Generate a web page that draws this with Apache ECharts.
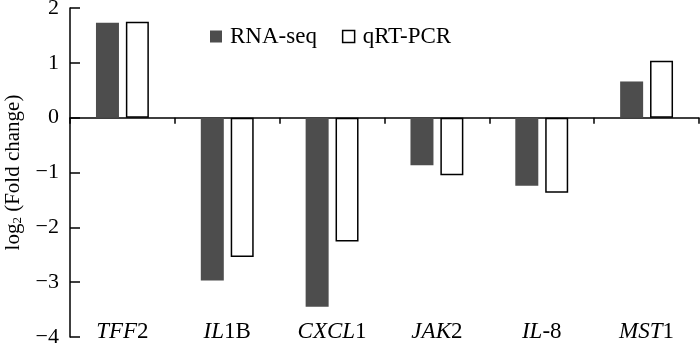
<!DOCTYPE html>
<html><head><meta charset="utf-8">
<script src="https://cdn.jsdelivr.net/npm/echarts@6/dist/echarts.min.js"></script>
<style>html,body{margin:0;padding:0;background:#fff}#c{width:700px;height:344px}</style>
</head><body><div id="c"></div>
<script>
const categories = ['TFF2','IL1B','CXCL1','JAK2','IL-8','MST1'];
const rnaSeq = [1.73, -2.97, -3.45, -0.87, -1.24, 0.66];
const qrtPcr = [1.75, -2.54, -2.26, -1.05, -1.37, 1.04];
const yTicks = [2, 1, 0, -1, -2, -3, -4];
const seriesNames = ['RNA-seq', 'qRT-PCR'];

const FONT = '"Liberation Serif", "Times New Roman", serif';
const chart = echarts.init(document.getElementById('c'), null, {renderer: 'canvas'});
const fmtCat = v => {
  const m = v.match(/^([A-Z]+)(.*)$/);
  return '{i|' + m[1] + '}{n|' + m[2] + '}';
};
chart.setOption({
  animation: false,
  backgroundColor: '#fff',
  textStyle: {fontFamily: FONT, color: '#000'},
  legend: {
    left: 205, top: 20, itemWidth: 12, itemHeight: 12, itemGap: 25,
    textStyle: {fontFamily: FONT, fontSize: 23, color: '#000', padding: [0, 0, 0, 3]},
    data: [
      {name: seriesNames[0], icon: 'rect', itemStyle: {color: '#4d4d4d', borderWidth: 0}},
      {name: seriesNames[1], icon: 'rect', itemStyle: {color: '#fff', borderColor: '#000', borderWidth: 1.5}}
    ]
  },
  grid: {left: 70, right: 1, top: 8, bottom: 7, containLabel: false, outerBoundsMode: 'none'},
  xAxis: [{
    type: 'category', data: categories, position: 'bottom',
    axisLine: {onZero: true, lineStyle: {color: '#000', width: 1.5}},
    axisTick: {show: true, length: 6, lineStyle: {color: '#000', width: 1.5}},
    axisLabel: {show: false}, splitLine: {show: false}
  }, {
    type: 'category', data: categories, position: 'bottom',
    axisLine: {show: false, onZero: false}, axisTick: {show: false},
    axisLabel: {
      inside: true, margin: -6, formatter: fmtCat,
      rich: {
        i: {fontFamily: FONT, fontSize: 23, fontStyle: 'italic', color: '#000'},
        n: {fontFamily: FONT, fontSize: 23, color: '#000'}
      }
    }
  }],
  yAxis: {
    type: 'value', min: -4, max: 2, interval: 1,
    axisLine: {show: true, lineStyle: {color: '#000', width: 1.5}},
    axisTick: {show: true, inside: true, length: 10, lineStyle: {color: '#000', width: 1.5}},
    splitLine: {show: false},
    axisLabel: {
      margin: 11, fontFamily: FONT, fontSize: 22, color: '#000',
      formatter: v => String(v).replace('-', '\u2212')
    },
    name: '{a|log}{s|2}{a| (Fold change)}',
    nameLocation: 'middle', nameGap: 46, nameRotate: 90,
    nameTextStyle: {
      rich: {
        a: {fontFamily: FONT, fontSize: 21, color: '#000'},
        s: {fontFamily: FONT, fontSize: 13, color: '#000', verticalAlign: 'bottom', padding: [9, 0, 0, 0]}
      }
    }
  },
  series: [{
    name: seriesNames[0], type: 'bar', data: rnaSeq, xAxisIndex: 0,
    barWidth: 23, barGap: '30%',
    itemStyle: {color: '#4d4d4d'}
  }, {
    name: seriesNames[1], type: 'bar', data: qrtPcr, xAxisIndex: 0,
    barWidth: 23, barGap: '30%',
    itemStyle: {color: '#fff', borderColor: '#000', borderWidth: 1.5}
  }]
});
</script></body></html>
